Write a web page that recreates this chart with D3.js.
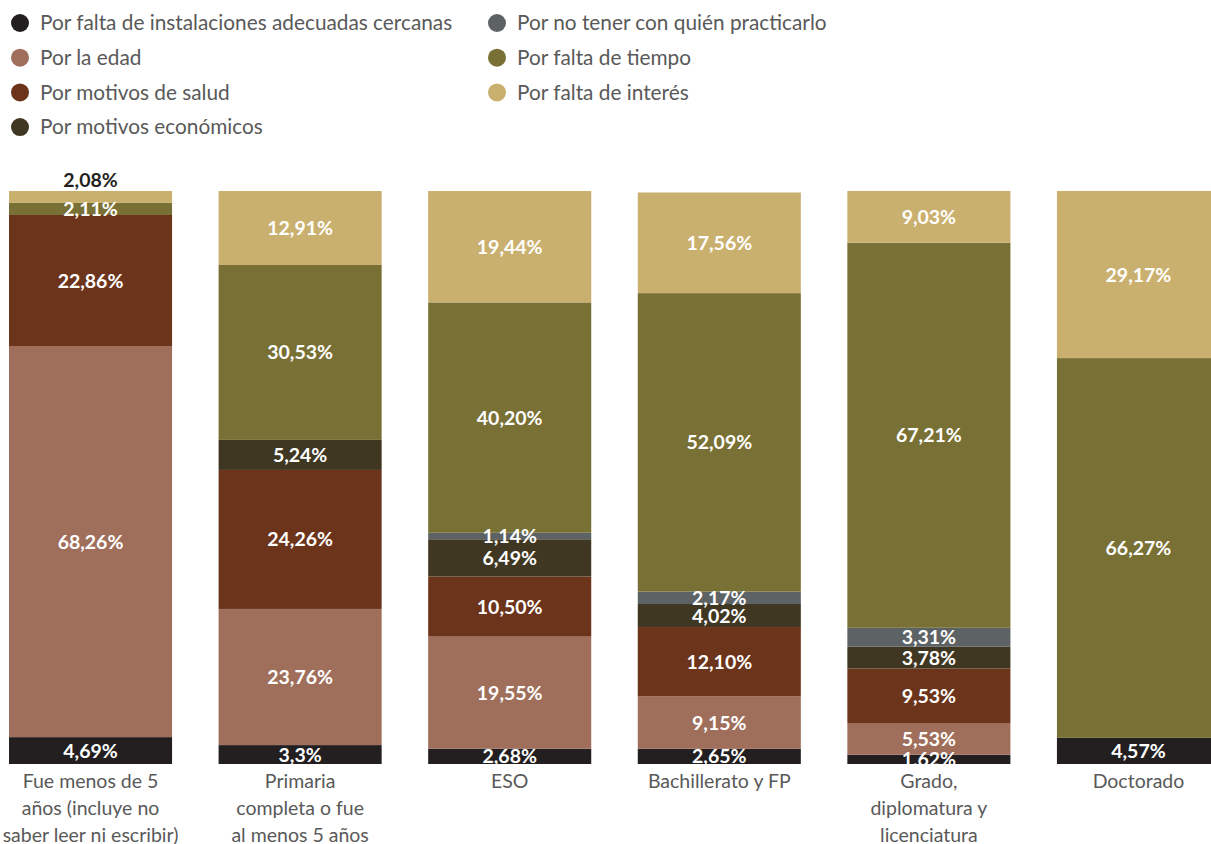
<!DOCTYPE html>
<html><head><meta charset="utf-8">
<script src="https://cdn.jsdelivr.net/npm/d3@7"></script>
<style>body{margin:0;background:#fff;overflow:hidden}svg{display:block}</style>
</head><body>
<script>
const categories = ["Fue menos de 5\naños (incluye no\nsaber leer ni escribir)", "Primaria\ncompleta o fue\nal menos 5 años", "ESO", "Bachillerato y FP", "Grado,\ndiplomatura y\nlicenciatura", "Doctorado"];
const seriesNames = ["Por falta de instalaciones adecuadas cercanas", "Por la edad", "Por motivos de salud", "Por motivos económicos", "Por no tener con quién practicarlo", "Por falta de tiempo", "Por falta de interés"];
const instalaciones = [4.69, 3.3, 2.68, 2.65, 1.62, 4.57];
const edad = [68.26, 23.76, 19.55, 9.15, 5.53, 0];
const salud = [22.86, 24.26, 10.50, 12.10, 9.53, 0];
const economicos = [0, 5.24, 6.49, 4.02, 3.78, 0];
const noCompania = [0, 0, 1.14, 2.17, 3.31, 0];
const tiempo = [2.11, 30.53, 40.20, 52.09, 67.21, 66.27];
const interes = [2.08, 12.91, 19.44, 17.56, 9.03, 29.17];
const colors = ["#231f20", "#9f6f5b", "#6c341b", "#3f3722", "#5d6265", "#797035", "#cab06e"];

const seriesData = [instalaciones, edad, salud, economicos, noCompania, tiempo, interes];
const W = 1211, H = 844;
const svg = d3.select("body").append("svg").attr("width", W).attr("height", H);
const FONT = "Lato, 'Open Sans', sans-serif";

const table = categories.map((c, i) => {
  const o = {cat: c};
  seriesNames.forEach((s, j) => o[s] = seriesData[j][i]);
  return o;
});
const stack = d3.stack().keys(seriesNames)(table);

const x = d3.scaleBand().domain(categories).range([9, 1220]).paddingInner(0.222).paddingOuter(0);
const y = d3.scaleLinear().domain([0, 100]).range([764, 191]);

svg.append("defs").append("clipPath").attr("id", "plot")
  .append("rect").attr("x", 0).attr("y", 150).attr("width", W).attr("height", 764 - 150);

// bars
const g = svg.append("g");
stack.forEach((layer, j) => {
  g.selectAll(null).data(layer.filter(d => d[1] - d[0] > 0)).enter().append("rect")
    .attr("x", d => x(d.data.cat))
    .attr("width", x.bandwidth())
    .attr("y", d => y(d[1]))
    .attr("height", d => y(d[0]) - y(d[1]))
    .attr("fill", colors[j]);
});

// labels
const lg = svg.append("g").attr("clip-path", "url(#plot)");
const labelText = v => (v === 3.3 ? "3.3" : v.toFixed(2)).replace(".", ",") + "%";
stack.forEach((layer, j) => {
  layer.forEach((d, i) => {
    const v = seriesData[j][i];
    if (!(v > 0)) return;
    const h = y(d[0]) - y(d[1]);
    const isTop = j === seriesNames.length - 1;
    const outside = isTop && h < 14;
    const cy = outside ? y(d[1]) - 11 : (y(d[0]) + y(d[1])) / 2;
    lg.append("text")
      .attr("x", x(d.data.cat) + x.bandwidth() / 2)
      .attr("y", cy)
      .attr("dy", "0.36em")
      .attr("text-anchor", "middle")
      .attr("font-family", FONT)
      .attr("font-weight", "bold")
      .attr("font-size", 19.5)
      .attr("fill", outside ? "#231f20" : "#ffffff")
      .text(labelText(v));
  });
});

// category labels
categories.forEach(c => {
  const lines = c.split("\n");
  const cx = x(c) + x.bandwidth() / 2;
  const t = svg.append("text")
    .attr("x", cx)
    .attr("text-anchor", "middle")
    .attr("font-family", FONT)
    .attr("font-size", 19.5)
    .attr("fill", "#595959");
  lines.forEach((l, k) => t.append("tspan").attr("x", cx).attr("y", 788 + k * 27).text(l));
});

// legend
const legendPos = [[0,0],[0,1],[0,2],[0,3],[1,0],[1,1],[1,2]];
seriesNames.forEach((s, j) => {
  const [col, row] = legendPos[j];
  const lx = col === 0 ? 20 : 497;
  const ly = 23 + row * 34.7;
  svg.append("circle").attr("cx", lx).attr("cy", ly).attr("r", 9).attr("fill", colors[j]);
  svg.append("text").attr("x", lx + 20).attr("y", ly).attr("dy", "0.35em")
    .attr("font-family", FONT).attr("font-size", 20.8).attr("fill", "#595959")
    .text(s);
});
</script>
</body></html>
